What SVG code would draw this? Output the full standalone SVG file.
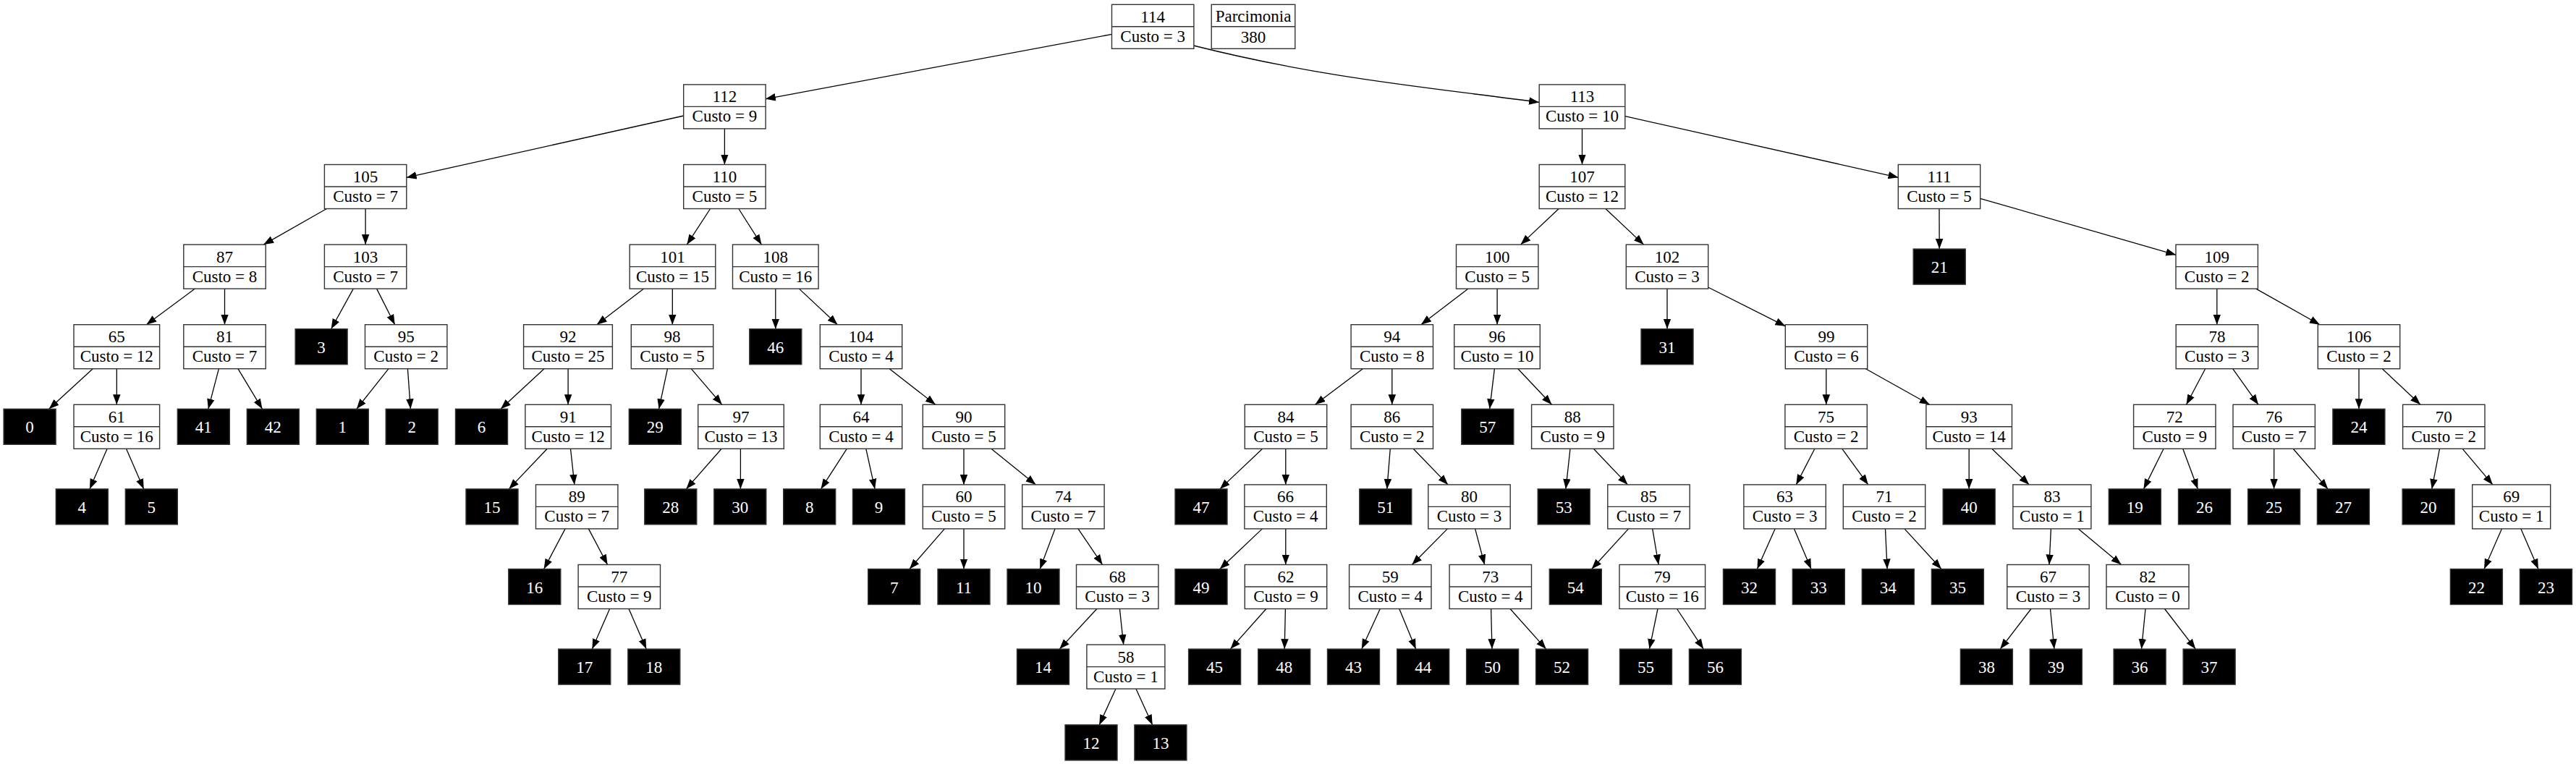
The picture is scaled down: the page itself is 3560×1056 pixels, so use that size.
<svg xmlns="http://www.w3.org/2000/svg" width="3560" height="1056" viewBox="0 0 3560 1056">
<style>
.b{fill:#fff;stroke:#333;stroke-width:1.4}
.d{fill:none;stroke:#333;stroke-width:1.4}
.lf{fill:#000;stroke:#333;stroke-width:1.4}
text{font-family:"Liberation Serif","Times New Roman",serif;font-size:23px;text-anchor:middle;fill:#000}
.lt{fill:#fff}
.e{fill:none;stroke:#000;stroke-width:1.3;marker-end:url(#a)}
</style>
<defs>
<marker id="a" markerUnits="userSpaceOnUse" markerWidth="15" markerHeight="12" viewBox="0 0 15 12" refX="14" refY="5.5" orient="auto"><path d="M0,0.25L14,5.5L0,10.75z" fill="#000"/></marker>
</defs>
<rect width="3560" height="1056" fill="#fff"/>
<g id="edges">
<path class="e" d="M1536.5,47.4L1057.9,136.8"/>
<path class="e" d="M1649.5,63C1829,108 1967,120 2127,141.4"/>
<path class="e" d="M944.9,160L561.6,245.4"/>
<path class="e" d="M1001.4,177.9L1001.4,227.5"/>
<path class="e" d="M2186.5,177.9L2186.5,227.5"/>
<path class="e" d="M2246,160.7L2623.5,245.3"/>
<path class="e" d="M451.4,288.5L364.2,338.1"/>
<path class="e" d="M505.1,288.5L505.1,338.1"/>
<path class="e" d="M981.6,288.5L949.3,338.1"/>
<path class="e" d="M1020.8,288.5L1052.4,338.1"/>
<path class="e" d="M2154.2,288.5L2101.5,338.1"/>
<path class="e" d="M2218.9,288.5L2271.6,338.1"/>
<path class="e" d="M2680,288.5L2680.2,344.1"/>
<path class="e" d="M2736.5,274.3L3007.2,352.3"/>
<path class="e" d="M269.4,399.1L202.4,448.7"/>
<path class="e" d="M310.5,399.1L310.5,448.7"/>
<path class="e" d="M488.3,399.1L457.6,454.7"/>
<path class="e" d="M520.6,399.1L545.7,448.7"/>
<path class="e" d="M889.7,399.1L824.8,448.7"/>
<path class="e" d="M929.3,399.1L929.3,448.7"/>
<path class="e" d="M1071.8,399.1L1071.8,454.7"/>
<path class="e" d="M1104.4,399.1L1157.4,448.7"/>
<path class="e" d="M2029.1,399.1L1963.9,448.7"/>
<path class="e" d="M2069.1,399.1L2069.1,448.7"/>
<path class="e" d="M2304,399.1L2304,454.7"/>
<path class="e" d="M2360.5,397L2467.5,450.8"/>
<path class="e" d="M3063.8,399.1L3063.8,448.7"/>
<path class="e" d="M3117.8,399.1L3205.9,448.7"/>
<path class="e" d="M128.2,509.7L67.7,565.3"/>
<path class="e" d="M161.3,509.7L161.3,559.3"/>
<path class="e" d="M302.4,509.7L287.8,565.3"/>
<path class="e" d="M328.9,509.7L362.5,565.3"/>
<path class="e" d="M537,509.7L492.8,565.3"/>
<path class="e" d="M563.4,509.7L567.4,565.3"/>
<path class="e" d="M752,509.7L692,565.3"/>
<path class="e" d="M785.1,509.7L785.1,559.3"/>
<path class="e" d="M922.5,509.7L910.6,565.3"/>
<path class="e" d="M955.2,509.7L997.8,559.3"/>
<path class="e" d="M1190,509.7L1190,559.3"/>
<path class="e" d="M1229.2,509.7L1292.8,559.3"/>
<path class="e" d="M1883.3,509.7L1817.5,559.3"/>
<path class="e" d="M1923.8,509.7L1923.8,559.3"/>
<path class="e" d="M2065.4,509.7L2058.7,565.3"/>
<path class="e" d="M2097.8,509.7L2144.5,559.3"/>
<path class="e" d="M2523.8,509.7L2523.8,559.3"/>
<path class="e" d="M2578.4,509.7L2666.8,559.3"/>
<path class="e" d="M3047.7,509.7L3021.5,559.3"/>
<path class="e" d="M3085.6,509.7L3121,559.3"/>
<path class="e" d="M3260,509.7L3260,565.3"/>
<path class="e" d="M3292.3,509.7L3345,559.3"/>
<path class="e" d="M148.1,620.3L123.9,675.9"/>
<path class="e" d="M174.5,620.3L198.7,675.9"/>
<path class="e" d="M756.2,620.3L703.3,675.9"/>
<path class="e" d="M788.5,620.3L793.9,669.9"/>
<path class="e" d="M997.2,620.3L948.3,675.9"/>
<path class="e" d="M1023.4,620.3L1023.4,675.9"/>
<path class="e" d="M1170.3,620.3L1134.5,675.9"/>
<path class="e" d="M1196.8,620.3L1209.1,675.9"/>
<path class="e" d="M1332,620.3L1332,669.9"/>
<path class="e" d="M1369.9,620.3L1431.5,669.9"/>
<path class="e" d="M1744.7,620.3L1685.9,675.9"/>
<path class="e" d="M1776.8,620.3L1776.8,669.9"/>
<path class="e" d="M1921.3,620.3L1916.8,675.9"/>
<path class="e" d="M1953.2,620.3L2001.1,669.9"/>
<path class="e" d="M2170,620.3L2163.9,675.9"/>
<path class="e" d="M2202.3,620.3L2249.5,669.9"/>
<path class="e" d="M2507.9,620.3L2482.3,669.9"/>
<path class="e" d="M2545.8,620.3L2581.8,669.9"/>
<path class="e" d="M2721.2,620.3L2721.2,675.9"/>
<path class="e" d="M2752.8,620.3L2804.3,669.9"/>
<path class="e" d="M2990.1,620.3L2962.5,675.9"/>
<path class="e" d="M3016.7,620.3L3037.4,675.9"/>
<path class="e" d="M3142.7,620.3L3142.6,675.9"/>
<path class="e" d="M3169.1,620.3L3217.2,675.9"/>
<path class="e" d="M3371.5,620.3L3360.8,675.9"/>
<path class="e" d="M3403.1,620.3L3444.9,669.9"/>
<path class="e" d="M781.1,730.9L751.7,786.5"/>
<path class="e" d="M813.4,730.9L839.6,780.5"/>
<path class="e" d="M1305.4,730.9L1257,786.5"/>
<path class="e" d="M1332,730.9L1332,786.5"/>
<path class="e" d="M1458,730.9L1437.2,786.5"/>
<path class="e" d="M1490,730.9L1523.6,780.5"/>
<path class="e" d="M1744.4,730.9L1685.8,786.5"/>
<path class="e" d="M1776.8,730.9L1776.8,780.5"/>
<path class="e" d="M2000.4,730.9L1951.4,780.5"/>
<path class="e" d="M2038.6,730.9L2051.7,780.5"/>
<path class="e" d="M2250.6,730.9L2199.7,786.5"/>
<path class="e" d="M2283.7,730.9L2292.1,780.5"/>
<path class="e" d="M2453.1,730.9L2428.4,786.5"/>
<path class="e" d="M2479.5,730.9L2503,786.5"/>
<path class="e" d="M2605.5,730.9L2608.1,786.5"/>
<path class="e" d="M2632,730.9L2682.9,786.5"/>
<path class="e" d="M2834.4,730.9L2832,780.5"/>
<path class="e" d="M2872.3,730.9L2931.6,780.5"/>
<path class="e" d="M3457.4,730.9L3433.1,786.5"/>
<path class="e" d="M3483.9,730.9L3507.9,786.5"/>
<path class="e" d="M842.6,841.5L818.4,897.1"/>
<path class="e" d="M869,841.5L893.2,897.1"/>
<path class="e" d="M1515.9,841.5L1464.3,897.1"/>
<path class="e" d="M1547.4,841.5L1552.7,891.1"/>
<path class="e" d="M1749.9,841.5L1700.4,897.1"/>
<path class="e" d="M1776.4,841.5L1775.2,897.1"/>
<path class="e" d="M1907.3,841.5L1881.8,897.1"/>
<path class="e" d="M1933.8,841.5L1956.6,897.1"/>
<path class="e" d="M2060.6,841.5L2062,897.1"/>
<path class="e" d="M2087,841.5L2136.7,897.1"/>
<path class="e" d="M2291,841.5L2279.5,897.1"/>
<path class="e" d="M2317.5,841.5L2354.2,897.1"/>
<path class="e" d="M2807,841.5L2764.3,897.1"/>
<path class="e" d="M2833.5,841.5L2838.9,897.1"/>
<path class="e" d="M2965,841.5L2959.5,897.1"/>
<path class="e" d="M2991.5,841.5L3034.2,897.1"/>
<path class="e" d="M1542,952.1L1519.2,1001.9"/>
<path class="e" d="M1569.9,952.1L1592.7,1001.9"/>
</g>
<g id="n114" transform="translate(1593.2,36.8)"><rect class="b" x="-56.7" y="-30.5" width="113.4" height="61"/><path class="d" d="M-56.7,0H56.7"/><text y="-6">114</text><text y="21">Custo = 3</text></g>
<g id="parcimonia" transform="translate(1732,36.8)"><rect class="b" x="-57.8" y="-30.5" width="115.6" height="61"/><path class="d" d="M-57.8,0H57.8"/><text y="-7">Parcimonia</text><text y="22">380</text></g>
<g id="n112" transform="translate(1001.4,147.4)"><rect class="b" x="-56.7" y="-30.5" width="113.4" height="61"/><path class="d" d="M-56.7,0H56.7"/><text y="-6">112</text><text y="21">Custo = 9</text></g>
<g id="n113" transform="translate(2186.5,147.4)"><rect class="b" x="-59.3" y="-30.5" width="118.6" height="61"/><path class="d" d="M-59.3,0H59.3"/><text y="-6">113</text><text y="21">Custo = 10</text></g>
<g id="n105" transform="translate(505.1,258)"><rect class="b" x="-56.7" y="-30.5" width="113.4" height="61"/><path class="d" d="M-56.7,0H56.7"/><text y="-6">105</text><text y="21">Custo = 7</text></g>
<g id="n110" transform="translate(1001.4,258)"><rect class="b" x="-56.7" y="-30.5" width="113.4" height="61"/><path class="d" d="M-56.7,0H56.7"/><text y="-6">110</text><text y="21">Custo = 5</text></g>
<g id="n107" transform="translate(2186.5,258)"><rect class="b" x="-59.3" y="-30.5" width="118.6" height="61"/><path class="d" d="M-59.3,0H59.3"/><text y="-6">107</text><text y="21">Custo = 12</text></g>
<g id="n111" transform="translate(2680,258)"><rect class="b" x="-56.7" y="-30.5" width="113.4" height="61"/><path class="d" d="M-56.7,0H56.7"/><text y="-6">111</text><text y="21">Custo = 5</text></g>
<g id="n87" transform="translate(310.5,368.6)"><rect class="b" x="-56.7" y="-30.5" width="113.4" height="61"/><path class="d" d="M-56.7,0H56.7"/><text y="-6">87</text><text y="21">Custo = 8</text></g>
<g id="n103" transform="translate(505.1,368.6)"><rect class="b" x="-56.7" y="-30.5" width="113.4" height="61"/><path class="d" d="M-56.7,0H56.7"/><text y="-6">103</text><text y="21">Custo = 7</text></g>
<g id="n101" transform="translate(929.5,368.6)"><rect class="b" x="-59.3" y="-30.5" width="118.6" height="61"/><path class="d" d="M-59.3,0H59.3"/><text y="-6">101</text><text y="21">Custo = 15</text></g>
<g id="n108" transform="translate(1071.8,368.6)"><rect class="b" x="-59.3" y="-30.5" width="118.6" height="61"/><path class="d" d="M-59.3,0H59.3"/><text y="-6">108</text><text y="21">Custo = 16</text></g>
<g id="n100" transform="translate(2069.2,368.6)"><rect class="b" x="-56.7" y="-30.5" width="113.4" height="61"/><path class="d" d="M-56.7,0H56.7"/><text y="-6">100</text><text y="21">Custo = 5</text></g>
<g id="n102" transform="translate(2304,368.6)"><rect class="b" x="-56.7" y="-30.5" width="113.4" height="61"/><path class="d" d="M-56.7,0H56.7"/><text y="-6">102</text><text y="21">Custo = 3</text></g>
<g id="n109" transform="translate(3063.7,368.6)"><rect class="b" x="-56.7" y="-30.5" width="113.4" height="61"/><path class="d" d="M-56.7,0H56.7"/><text y="-6">109</text><text y="21">Custo = 2</text></g>
<g id="n65" transform="translate(161.3,479.2)"><rect class="b" x="-59.3" y="-30.5" width="118.6" height="61"/><path class="d" d="M-59.3,0H59.3"/><text y="-6">65</text><text y="21">Custo = 12</text></g>
<g id="n81" transform="translate(310.5,479.2)"><rect class="b" x="-56.7" y="-30.5" width="113.4" height="61"/><path class="d" d="M-56.7,0H56.7"/><text y="-6">81</text><text y="21">Custo = 7</text></g>
<g id="n95" transform="translate(561.2,479.2)"><rect class="b" x="-56.7" y="-30.5" width="113.4" height="61"/><path class="d" d="M-56.7,0H56.7"/><text y="-6">95</text><text y="21">Custo = 2</text></g>
<g id="n92" transform="translate(785,479.2)"><rect class="b" x="-61.4" y="-30.5" width="122.8" height="61"/><path class="d" d="M-61.4,0H61.4"/><text y="-6">92</text><text y="21">Custo = 25</text></g>
<g id="n98" transform="translate(929,479.2)"><rect class="b" x="-56.7" y="-30.5" width="113.4" height="61"/><path class="d" d="M-56.7,0H56.7"/><text y="-6">98</text><text y="21">Custo = 5</text></g>
<g id="n104" transform="translate(1190,479.2)"><rect class="b" x="-56.7" y="-30.5" width="113.4" height="61"/><path class="d" d="M-56.7,0H56.7"/><text y="-6">104</text><text y="21">Custo = 4</text></g>
<g id="n94" transform="translate(1923.8,479.2)"><rect class="b" x="-56.7" y="-30.5" width="113.4" height="61"/><path class="d" d="M-56.7,0H56.7"/><text y="-6">94</text><text y="21">Custo = 8</text></g>
<g id="n96" transform="translate(2069,479.2)"><rect class="b" x="-59.3" y="-30.5" width="118.6" height="61"/><path class="d" d="M-59.3,0H59.3"/><text y="-6">96</text><text y="21">Custo = 10</text></g>
<g id="n99" transform="translate(2524,479.2)"><rect class="b" x="-56.7" y="-30.5" width="113.4" height="61"/><path class="d" d="M-56.7,0H56.7"/><text y="-6">99</text><text y="21">Custo = 6</text></g>
<g id="n78" transform="translate(3063.9,479.2)"><rect class="b" x="-56.7" y="-30.5" width="113.4" height="61"/><path class="d" d="M-56.7,0H56.7"/><text y="-6">78</text><text y="21">Custo = 3</text></g>
<g id="n106" transform="translate(3260,479.2)"><rect class="b" x="-56.7" y="-30.5" width="113.4" height="61"/><path class="d" d="M-56.7,0H56.7"/><text y="-6">106</text><text y="21">Custo = 2</text></g>
<g id="n61" transform="translate(161.3,589.8)"><rect class="b" x="-59.3" y="-30.5" width="118.6" height="61"/><path class="d" d="M-59.3,0H59.3"/><text y="-6">61</text><text y="21">Custo = 16</text></g>
<g id="n91" transform="translate(785.2,589.8)"><rect class="b" x="-59.3" y="-30.5" width="118.6" height="61"/><path class="d" d="M-59.3,0H59.3"/><text y="-6">91</text><text y="21">Custo = 12</text></g>
<g id="n97" transform="translate(1024,589.8)"><rect class="b" x="-59.3" y="-30.5" width="118.6" height="61"/><path class="d" d="M-59.3,0H59.3"/><text y="-6">97</text><text y="21">Custo = 13</text></g>
<g id="n64" transform="translate(1190,589.8)"><rect class="b" x="-56.7" y="-30.5" width="113.4" height="61"/><path class="d" d="M-56.7,0H56.7"/><text y="-6">64</text><text y="21">Custo = 4</text></g>
<g id="n90" transform="translate(1332,589.8)"><rect class="b" x="-56.7" y="-30.5" width="113.4" height="61"/><path class="d" d="M-56.7,0H56.7"/><text y="-6">90</text><text y="21">Custo = 5</text></g>
<g id="n84" transform="translate(1777,589.8)"><rect class="b" x="-56.7" y="-30.5" width="113.4" height="61"/><path class="d" d="M-56.7,0H56.7"/><text y="-6">84</text><text y="21">Custo = 5</text></g>
<g id="n86" transform="translate(1923.8,589.8)"><rect class="b" x="-56.7" y="-30.5" width="113.4" height="61"/><path class="d" d="M-56.7,0H56.7"/><text y="-6">86</text><text y="21">Custo = 2</text></g>
<g id="n88" transform="translate(2173.3,589.8)"><rect class="b" x="-56.7" y="-30.5" width="113.4" height="61"/><path class="d" d="M-56.7,0H56.7"/><text y="-6">88</text><text y="21">Custo = 9</text></g>
<g id="n75" transform="translate(2523.6,589.8)"><rect class="b" x="-56.7" y="-30.5" width="113.4" height="61"/><path class="d" d="M-56.7,0H56.7"/><text y="-6">75</text><text y="21">Custo = 2</text></g>
<g id="n93" transform="translate(2721.2,589.8)"><rect class="b" x="-59.3" y="-30.5" width="118.6" height="61"/><path class="d" d="M-59.3,0H59.3"/><text y="-6">93</text><text y="21">Custo = 14</text></g>
<g id="n72" transform="translate(3005.3,589.8)"><rect class="b" x="-56.7" y="-30.5" width="113.4" height="61"/><path class="d" d="M-56.7,0H56.7"/><text y="-6">72</text><text y="21">Custo = 9</text></g>
<g id="n76" transform="translate(3142.7,589.8)"><rect class="b" x="-56.7" y="-30.5" width="113.4" height="61"/><path class="d" d="M-56.7,0H56.7"/><text y="-6">76</text><text y="21">Custo = 7</text></g>
<g id="n70" transform="translate(3377.3,589.8)"><rect class="b" x="-56.7" y="-30.5" width="113.4" height="61"/><path class="d" d="M-56.7,0H56.7"/><text y="-6">70</text><text y="21">Custo = 2</text></g>
<g id="n89" transform="translate(797.2,700.4)"><rect class="b" x="-56.7" y="-30.5" width="113.4" height="61"/><path class="d" d="M-56.7,0H56.7"/><text y="-6">89</text><text y="21">Custo = 7</text></g>
<g id="n60" transform="translate(1332,700.4)"><rect class="b" x="-56.7" y="-30.5" width="113.4" height="61"/><path class="d" d="M-56.7,0H56.7"/><text y="-6">60</text><text y="21">Custo = 5</text></g>
<g id="n74" transform="translate(1469.4,700.4)"><rect class="b" x="-56.7" y="-30.5" width="113.4" height="61"/><path class="d" d="M-56.7,0H56.7"/><text y="-6">74</text><text y="21">Custo = 7</text></g>
<g id="n66" transform="translate(1776.6,700.4)"><rect class="b" x="-56.7" y="-30.5" width="113.4" height="61"/><path class="d" d="M-56.7,0H56.7"/><text y="-6">66</text><text y="21">Custo = 4</text></g>
<g id="n80" transform="translate(2030.5,700.4)"><rect class="b" x="-56.7" y="-30.5" width="113.4" height="61"/><path class="d" d="M-56.7,0H56.7"/><text y="-6">80</text><text y="21">Custo = 3</text></g>
<g id="n85" transform="translate(2278.5,700.4)"><rect class="b" x="-56.7" y="-30.5" width="113.4" height="61"/><path class="d" d="M-56.7,0H56.7"/><text y="-6">85</text><text y="21">Custo = 7</text></g>
<g id="n63" transform="translate(2466.6,700.4)"><rect class="b" x="-56.7" y="-30.5" width="113.4" height="61"/><path class="d" d="M-56.7,0H56.7"/><text y="-6">63</text><text y="21">Custo = 3</text></g>
<g id="n71" transform="translate(2604,700.4)"><rect class="b" x="-56.7" y="-30.5" width="113.4" height="61"/><path class="d" d="M-56.7,0H56.7"/><text y="-6">71</text><text y="21">Custo = 2</text></g>
<g id="n83" transform="translate(2835.9,700.4)"><rect class="b" x="-54" y="-30.5" width="108" height="61"/><path class="d" d="M-54,0H54"/><text y="-6">83</text><text y="21">Custo = 1</text></g>
<g id="n69" transform="translate(3470.7,700.4)"><rect class="b" x="-54" y="-30.5" width="108" height="61"/><path class="d" d="M-54,0H54"/><text y="-6">69</text><text y="21">Custo = 1</text></g>
<g id="n77" transform="translate(855.8,811)"><rect class="b" x="-56.7" y="-30.5" width="113.4" height="61"/><path class="d" d="M-56.7,0H56.7"/><text y="-6">77</text><text y="21">Custo = 9</text></g>
<g id="n68" transform="translate(1544.2,811)"><rect class="b" x="-56.7" y="-30.5" width="113.4" height="61"/><path class="d" d="M-56.7,0H56.7"/><text y="-6">68</text><text y="21">Custo = 3</text></g>
<g id="n62" transform="translate(1777,811)"><rect class="b" x="-56.7" y="-30.5" width="113.4" height="61"/><path class="d" d="M-56.7,0H56.7"/><text y="-6">62</text><text y="21">Custo = 9</text></g>
<g id="n59" transform="translate(1921.3,811)"><rect class="b" x="-56.7" y="-30.5" width="113.4" height="61"/><path class="d" d="M-56.7,0H56.7"/><text y="-6">59</text><text y="21">Custo = 4</text></g>
<g id="n73" transform="translate(2059.8,811)"><rect class="b" x="-56.7" y="-30.5" width="113.4" height="61"/><path class="d" d="M-56.7,0H56.7"/><text y="-6">73</text><text y="21">Custo = 4</text></g>
<g id="n79" transform="translate(2297.3,811)"><rect class="b" x="-59.3" y="-30.5" width="118.6" height="61"/><path class="d" d="M-59.3,0H59.3"/><text y="-6">79</text><text y="21">Custo = 16</text></g>
<g id="n67" transform="translate(2830.5,811)"><rect class="b" x="-56.7" y="-30.5" width="113.4" height="61"/><path class="d" d="M-56.7,0H56.7"/><text y="-6">67</text><text y="21">Custo = 3</text></g>
<g id="n82" transform="translate(2968,811)"><rect class="b" x="-57" y="-30.5" width="114" height="61"/><path class="d" d="M-57,0H57"/><text y="-6">82</text><text y="21">Custo = 0</text></g>
<g id="n58" transform="translate(1555.9,921.6)"><rect class="b" x="-54" y="-30.5" width="108" height="61"/><path class="d" d="M-54,0H54"/><text y="-6">58</text><text y="21">Custo = 1</text></g>
<g id="n21" transform="translate(2680.2,368.6)"><rect class="lf" x="-36" y="-24.5" width="72" height="49"/><text class="lt" y="8.5">21</text></g>
<g id="n3" transform="translate(444.1,479.2)"><rect class="lf" x="-36" y="-24.5" width="72" height="49"/><text class="lt" y="8.5">3</text></g>
<g id="n46" transform="translate(1071.8,479.2)"><rect class="lf" x="-36" y="-24.5" width="72" height="49"/><text class="lt" y="8.5">46</text></g>
<g id="n31" transform="translate(2304,479.2)"><rect class="lf" x="-36" y="-24.5" width="72" height="49"/><text class="lt" y="8.5">31</text></g>
<g id="n0" transform="translate(41.1,589.8)"><rect class="lf" x="-36" y="-24.5" width="72" height="49"/><text class="lt" y="8.5">0</text></g>
<g id="n41" transform="translate(281.3,589.8)"><rect class="lf" x="-36" y="-24.5" width="72" height="49"/><text class="lt" y="8.5">41</text></g>
<g id="n42" transform="translate(377.3,589.8)"><rect class="lf" x="-36" y="-24.5" width="72" height="49"/><text class="lt" y="8.5">42</text></g>
<g id="n1" transform="translate(473.3,589.8)"><rect class="lf" x="-36" y="-24.5" width="72" height="49"/><text class="lt" y="8.5">1</text></g>
<g id="n2" transform="translate(569.2,589.8)"><rect class="lf" x="-36" y="-24.5" width="72" height="49"/><text class="lt" y="8.5">2</text></g>
<g id="n6" transform="translate(665.5,589.8)"><rect class="lf" x="-36" y="-24.5" width="72" height="49"/><text class="lt" y="8.5">6</text></g>
<g id="n29" transform="translate(905.3,589.8)"><rect class="lf" x="-36" y="-24.5" width="72" height="49"/><text class="lt" y="8.5">29</text></g>
<g id="n57" transform="translate(2055.8,589.8)"><rect class="lf" x="-36" y="-24.5" width="72" height="49"/><text class="lt" y="8.5">57</text></g>
<g id="n24" transform="translate(3259.9,589.8)"><rect class="lf" x="-36" y="-24.5" width="72" height="49"/><text class="lt" y="8.5">24</text></g>
<g id="n4" transform="translate(113.3,700.4)"><rect class="lf" x="-36" y="-24.5" width="72" height="49"/><text class="lt" y="8.5">4</text></g>
<g id="n5" transform="translate(209.3,700.4)"><rect class="lf" x="-36" y="-24.5" width="72" height="49"/><text class="lt" y="8.5">5</text></g>
<g id="n15" transform="translate(680,700.4)"><rect class="lf" x="-36" y="-24.5" width="72" height="49"/><text class="lt" y="8.5">15</text></g>
<g id="n28" transform="translate(926.8,700.4)"><rect class="lf" x="-36" y="-24.5" width="72" height="49"/><text class="lt" y="8.5">28</text></g>
<g id="n30" transform="translate(1022.8,700.4)"><rect class="lf" x="-36" y="-24.5" width="72" height="49"/><text class="lt" y="8.5">30</text></g>
<g id="n8" transform="translate(1118.7,700.4)"><rect class="lf" x="-36" y="-24.5" width="72" height="49"/><text class="lt" y="8.5">8</text></g>
<g id="n9" transform="translate(1214.5,700.4)"><rect class="lf" x="-36" y="-24.5" width="72" height="49"/><text class="lt" y="8.5">9</text></g>
<g id="n47" transform="translate(1660,700.4)"><rect class="lf" x="-36" y="-24.5" width="72" height="49"/><text class="lt" y="8.5">47</text></g>
<g id="n51" transform="translate(1914.8,700.4)"><rect class="lf" x="-36" y="-24.5" width="72" height="49"/><text class="lt" y="8.5">51</text></g>
<g id="n53" transform="translate(2161.2,700.4)"><rect class="lf" x="-36" y="-24.5" width="72" height="49"/><text class="lt" y="8.5">53</text></g>
<g id="n40" transform="translate(2721.2,700.4)"><rect class="lf" x="-36" y="-24.5" width="72" height="49"/><text class="lt" y="8.5">40</text></g>
<g id="n19" transform="translate(2950.3,700.4)"><rect class="lf" x="-36" y="-24.5" width="72" height="49"/><text class="lt" y="8.5">19</text></g>
<g id="n26" transform="translate(3046.5,700.4)"><rect class="lf" x="-36" y="-24.5" width="72" height="49"/><text class="lt" y="8.5">26</text></g>
<g id="n25" transform="translate(3142.6,700.4)"><rect class="lf" x="-36" y="-24.5" width="72" height="49"/><text class="lt" y="8.5">25</text></g>
<g id="n27" transform="translate(3238.4,700.4)"><rect class="lf" x="-36" y="-24.5" width="72" height="49"/><text class="lt" y="8.5">27</text></g>
<g id="n20" transform="translate(3356.1,700.4)"><rect class="lf" x="-36" y="-24.5" width="72" height="49"/><text class="lt" y="8.5">20</text></g>
<g id="n16" transform="translate(738.8,811)"><rect class="lf" x="-36" y="-24.5" width="72" height="49"/><text class="lt" y="8.5">16</text></g>
<g id="n7" transform="translate(1235.7,811)"><rect class="lf" x="-36" y="-24.5" width="72" height="49"/><text class="lt" y="8.5">7</text></g>
<g id="n11" transform="translate(1332,811)"><rect class="lf" x="-36" y="-24.5" width="72" height="49"/><text class="lt" y="8.5">11</text></g>
<g id="n10" transform="translate(1428,811)"><rect class="lf" x="-36" y="-24.5" width="72" height="49"/><text class="lt" y="8.5">10</text></g>
<g id="n49" transform="translate(1660,811)"><rect class="lf" x="-36" y="-24.5" width="72" height="49"/><text class="lt" y="8.5">49</text></g>
<g id="n54" transform="translate(2177.3,811)"><rect class="lf" x="-36" y="-24.5" width="72" height="49"/><text class="lt" y="8.5">54</text></g>
<g id="n32" transform="translate(2417.5,811)"><rect class="lf" x="-36" y="-24.5" width="72" height="49"/><text class="lt" y="8.5">32</text></g>
<g id="n33" transform="translate(2513.3,811)"><rect class="lf" x="-36" y="-24.5" width="72" height="49"/><text class="lt" y="8.5">33</text></g>
<g id="n34" transform="translate(2609.3,811)"><rect class="lf" x="-36" y="-24.5" width="72" height="49"/><text class="lt" y="8.5">34</text></g>
<g id="n35" transform="translate(2705.4,811)"><rect class="lf" x="-36" y="-24.5" width="72" height="49"/><text class="lt" y="8.5">35</text></g>
<g id="n22" transform="translate(3422.4,811)"><rect class="lf" x="-36" y="-24.5" width="72" height="49"/><text class="lt" y="8.5">22</text></g>
<g id="n23" transform="translate(3518.5,811)"><rect class="lf" x="-36" y="-24.5" width="72" height="49"/><text class="lt" y="8.5">23</text></g>
<g id="n17" transform="translate(807.8,921.6)"><rect class="lf" x="-36" y="-24.5" width="72" height="49"/><text class="lt" y="8.5">17</text></g>
<g id="n18" transform="translate(903.8,921.6)"><rect class="lf" x="-36" y="-24.5" width="72" height="49"/><text class="lt" y="8.5">18</text></g>
<g id="n14" transform="translate(1441.5,921.6)"><rect class="lf" x="-36" y="-24.5" width="72" height="49"/><text class="lt" y="8.5">14</text></g>
<g id="n45" transform="translate(1678.6,921.6)"><rect class="lf" x="-36" y="-24.5" width="72" height="49"/><text class="lt" y="8.5">45</text></g>
<g id="n48" transform="translate(1774.7,921.6)"><rect class="lf" x="-36" y="-24.5" width="72" height="49"/><text class="lt" y="8.5">48</text></g>
<g id="n43" transform="translate(1870.5,921.6)"><rect class="lf" x="-36" y="-24.5" width="72" height="49"/><text class="lt" y="8.5">43</text></g>
<g id="n44" transform="translate(1966.7,921.6)"><rect class="lf" x="-36" y="-24.5" width="72" height="49"/><text class="lt" y="8.5">44</text></g>
<g id="n50" transform="translate(2062.6,921.6)"><rect class="lf" x="-36" y="-24.5" width="72" height="49"/><text class="lt" y="8.5">50</text></g>
<g id="n52" transform="translate(2158.6,921.6)"><rect class="lf" x="-36" y="-24.5" width="72" height="49"/><text class="lt" y="8.5">52</text></g>
<g id="n55" transform="translate(2274.5,921.6)"><rect class="lf" x="-36" y="-24.5" width="72" height="49"/><text class="lt" y="8.5">55</text></g>
<g id="n56" transform="translate(2370.4,921.6)"><rect class="lf" x="-36" y="-24.5" width="72" height="49"/><text class="lt" y="8.5">56</text></g>
<g id="n38" transform="translate(2745.4,921.6)"><rect class="lf" x="-36" y="-24.5" width="72" height="49"/><text class="lt" y="8.5">38</text></g>
<g id="n39" transform="translate(2841.3,921.6)"><rect class="lf" x="-36" y="-24.5" width="72" height="49"/><text class="lt" y="8.5">39</text></g>
<g id="n36" transform="translate(2957.1,921.6)"><rect class="lf" x="-36" y="-24.5" width="72" height="49"/><text class="lt" y="8.5">36</text></g>
<g id="n37" transform="translate(3053.1,921.6)"><rect class="lf" x="-36" y="-24.5" width="72" height="49"/><text class="lt" y="8.5">37</text></g>
<g id="n12" transform="translate(1508,1026.4)"><rect class="lf" x="-36" y="-24.5" width="72" height="49"/><text class="lt" y="8.5">12</text></g>
<g id="n13" transform="translate(1603.9,1026.4)"><rect class="lf" x="-36" y="-24.5" width="72" height="49"/><text class="lt" y="8.5">13</text></g>
</svg>
